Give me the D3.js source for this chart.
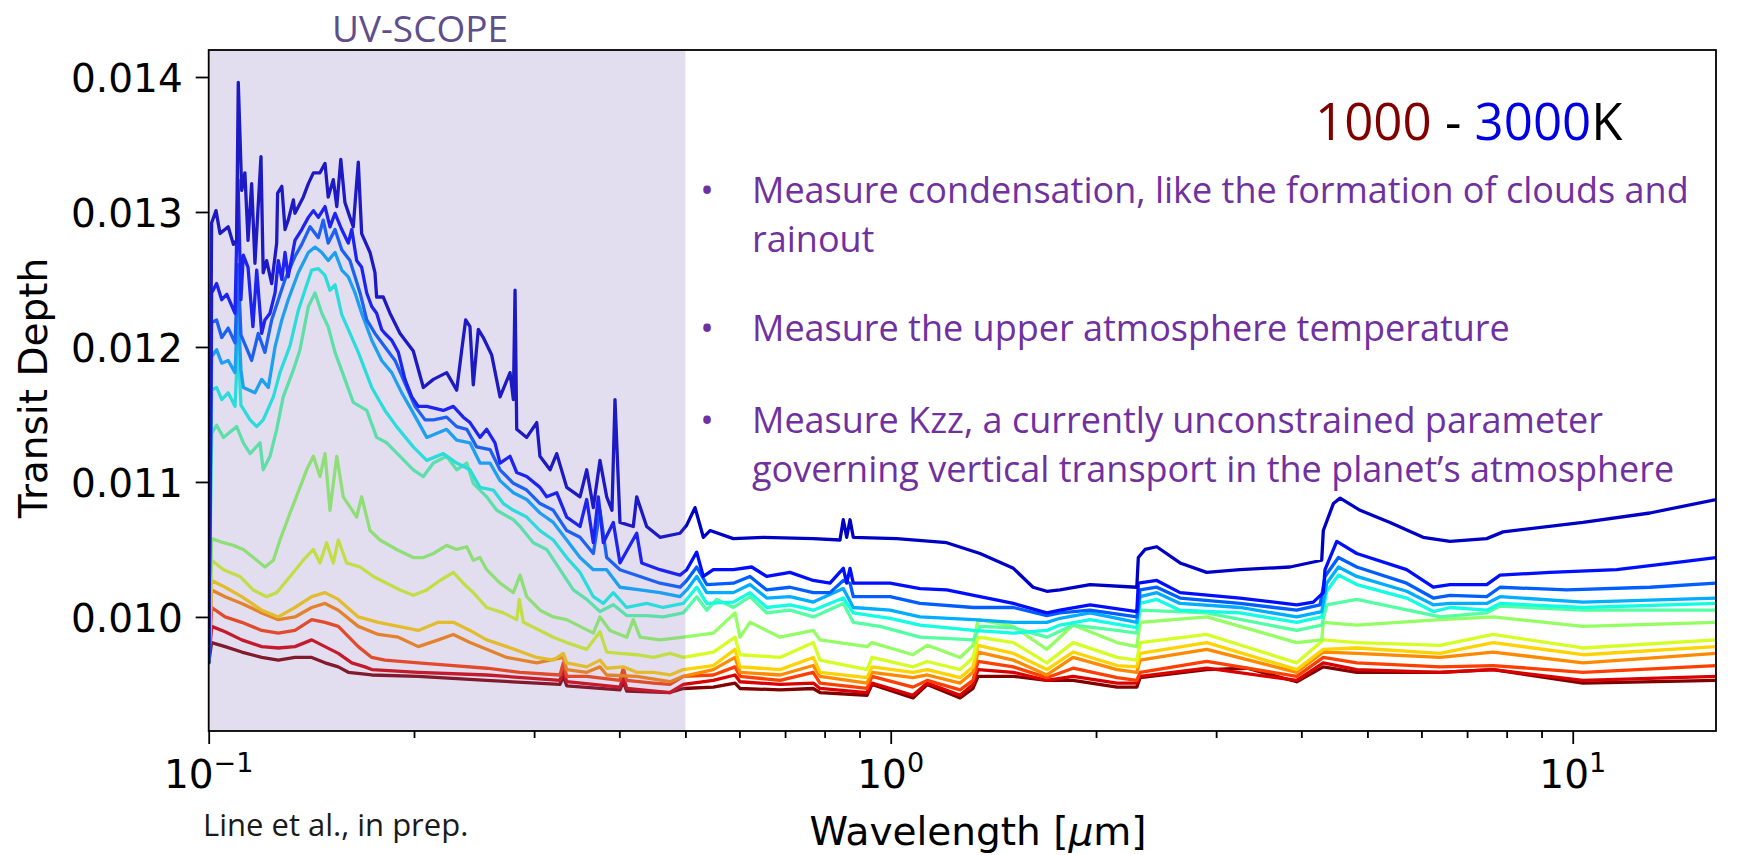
<!DOCTYPE html>
<html>
<head>
<meta charset="utf-8">
<script src="https://cdn.jsdelivr.net/npm/d3@7"></script>
<style>
  html, body { margin: 0; padding: 0; background: #fff; }
  svg { display: block; }
</style>
</head>
<body>
<svg id="chart" width="1750" height="855"></svg>
<script>
// Transmission spectra of a hot planet, 1000 K (dark red) to 3000 K (blue).
// Each series: [wavelength in micron, transit depth].
const temperatures = [3000, 2833, 2667, 2500, 2333, 2167, 2000, 1833, 1667, 1500, 1333, 1167, 1000];

const spec3000 = [[0.1,0.00966],[0.1010,0.01292],[0.1025,0.01301],[0.1039,0.01284],[0.1068,0.01289],[0.1087,0.01276],[0.1099,0.01279],[0.1105,0.01396],[0.1118,0.01316],[0.1130,0.01329],[0.1142,0.01279],[0.1156,0.01321],[0.1169,0.01262],[0.1193,0.01341],[0.1202,0.01255],[0.1216,0.01264],[0.1237,0.01247],[0.1258,0.01277],[0.1262,0.01314],[0.1280,0.01319],[0.1294,0.01287],[0.1308,0.01294],[0.1331,0.01309],[0.1338,0.01299],[0.1376,0.01311],[0.1400,0.01321],[0.1424,0.01329],[0.1456,0.01329],[0.1481,0.01336],[0.1497,0.01311],[0.1523,0.01324],[0.1541,0.01304],[0.1562,0.01339],[0.1584,0.01307],[0.1611,0.01296],[0.1629,0.01289],[0.1657,0.01337],[0.1676,0.01284],[0.1724,0.01270],[0.1753,0.01255],[0.1763,0.01237],[0.1803,0.01237],[0.1844,0.01225],[0.1908,0.01210],[0.1995,0.01197],[0.2064,0.01170],[0.2135,0.01176],[0.2233,0.01181],[0.2310,0.01168],[0.2350,0.01198],[0.2381,0.01220],[0.2416,0.01215],[0.2443,0.01172],[0.2485,0.01213],[0.2527,0.01207],[0.2600,0.01194],[0.2674,0.01163],[0.2766,0.01181],[0.2797,0.01161],[0.2813,0.01242],[0.2829,0.01139],[0.2926,0.01133],[0.3027,0.01144],[0.3060,0.01119],[0.3166,0.01109],[0.3238,0.01121],[0.3349,0.01096],[0.3503,0.01089],[0.3583,0.01109],[0.3664,0.01081],[0.3747,0.01116],[0.3833,0.01089],[0.3902,0.01079],[0.3942,0.01161],[0.4009,0.01070],[0.4193,0.01067],[0.4242,0.01089],[0.4387,0.01067],[0.4589,0.01059],[0.4910,0.01062],[0.5022,0.01068],[0.5165,0.01081],[0.5312,0.01059],[0.5434,0.01064],[0.5878,0.01058],[0.6505,0.01059],[0.7699,0.01058],[0.8426,0.01057],[0.8520,0.01072],[0.8619,0.01059],[0.8716,0.01072],[0.8813,0.01059],[1.0205,0.01058],[1.208,0.01055],[1.352,0.01047],[1.513,0.01036],[1.617,0.01022],[1.694,0.01019],[1.771,0.01020],[1.960,0.01024],[2.295,0.01022],[2.307,0.01044],[2.360,0.01050],[2.455,0.01052],[2.656,0.01040],[2.906,0.01033],[3.252,0.01035],[3.850,0.01037],[4.285,0.01042],[4.308,0.01064],[4.457,0.01084],[4.560,0.01088],[4.878,0.01079],[5.396,0.01070],[6.034,0.01059],[6.607,0.01056],[7.479,0.01058],[7.904,0.01063],[10.35,0.01070],[12.98,0.01077],[16.22,0.01087]];

const spec2833 = [[0.1,0.00966],[0.1010,0.01240],[0.1027,0.01247],[0.1045,0.01235],[0.1063,0.01239],[0.1093,0.01225],[0.1104,0.01324],[0.1115,0.01235],[0.1124,0.01268],[0.1142,0.01259],[0.1161,0.01215],[0.1176,0.01257],[0.1196,0.01210],[0.1209,0.01220],[0.1230,0.01225],[0.1251,0.01240],[0.1265,0.01264],[0.1280,0.01250],[0.1294,0.01270],[0.1308,0.01252],[0.1338,0.01279],[0.1369,0.01287],[0.1400,0.01296],[0.1424,0.01301],[0.1448,0.01296],[0.1481,0.01304],[0.1506,0.01289],[0.1532,0.01299],[0.1567,0.01287],[0.1602,0.01277],[0.1621,0.01287],[0.1648,0.01264],[0.1676,0.01259],[0.1705,0.01240],[0.1734,0.01230],[0.1763,0.01225],[0.1793,0.01213],[0.1813,0.01210],[0.1855,0.01205],[0.1897,0.01196],[0.1940,0.01176],[0.1985,0.01163],[0.2029,0.01156],[0.2088,0.01156],[0.2208,0.01153],[0.2284,0.01156],[0.2362,0.01148],[0.2416,0.01144],[0.2499,0.01133],[0.2556,0.01139],[0.2629,0.01129],[0.2674,0.01114],[0.2766,0.01119],[0.2829,0.01107],[0.2926,0.01104],[0.3060,0.01096],[0.3130,0.01089],[0.3238,0.01092],[0.3349,0.01074],[0.3503,0.01067],[0.3583,0.01087],[0.3664,0.01055],[0.3726,0.01089],[0.3790,0.01055],[0.3920,0.01070],[0.4009,0.01040],[0.4242,0.01062],[0.4314,0.01040],[0.4589,0.01035],[0.4910,0.01031],[0.5022,0.01035],[0.5194,0.01048],[0.5312,0.01030],[0.5494,0.01035],[0.5878,0.01035],[0.6254,0.01037],[0.6579,0.01030],[0.7117,0.01033],[0.7699,0.01027],[0.8146,0.01025],[0.8520,0.01036],[0.8619,0.01025],[0.8716,0.01036],[0.8813,0.01025],[0.9977,0.01025],[1.104,0.01021],[1.208,0.01020],[1.352,0.01015],[1.513,0.01010],[1.694,0.01003],[1.771,0.01005],[1.960,0.01009],[2.295,0.01004],[2.307,0.01025],[2.455,0.01027],[2.656,0.01018],[3.252,0.01014],[3.938,0.01009],[4.165,0.01011],[4.308,0.01018],[4.333,0.01035],[4.508,0.01056],[4.823,0.01047],[5.707,0.01035],[6.244,0.01022],[6.607,0.01024],[7.479,0.01024],[7.824,0.01031],[9.262,0.01033],[11.60,0.01035],[14.53,0.01041],[16.22,0.01044]];

const spec2667 = [[0.1,0.00966],[0.1010,0.01218],[0.1027,0.01220],[0.1045,0.01207],[0.1068,0.01214],[0.1093,0.01203],[0.1104,0.01261],[0.1115,0.01209],[0.1156,0.01190],[0.1182,0.01210],[0.1209,0.01196],[0.1237,0.01220],[0.1265,0.01235],[0.1294,0.01250],[0.1338,0.01267],[0.1369,0.01276],[0.1408,0.01289],[0.1448,0.01281],[0.1472,0.01294],[0.1497,0.01277],[0.1532,0.01287],[0.1567,0.01272],[0.1611,0.01264],[0.1639,0.01252],[0.1667,0.01240],[0.1705,0.01220],[0.1753,0.01210],[0.1813,0.01200],[0.1876,0.01190],[0.1940,0.01173],[0.2007,0.01156],[0.2076,0.01146],[0.2135,0.01146],[0.2233,0.01148],[0.2310,0.01141],[0.2390,0.01139],[0.2471,0.01126],[0.2585,0.01124],[0.2674,0.01109],[0.2797,0.01099],[0.2926,0.01094],[0.3060,0.01084],[0.3201,0.01079],[0.3349,0.01064],[0.3503,0.01059],[0.3664,0.01047],[0.3747,0.01079],[0.3833,0.01044],[0.4009,0.01035],[0.4290,0.01030],[0.4589,0.01025],[0.4910,0.01022],[0.5022,0.01027],[0.5194,0.01037],[0.5374,0.01024],[0.5878,0.01025],[0.6218,0.01030],[0.6579,0.01020],[0.7117,0.01022],[0.7699,0.01018],[0.8146,0.01018],[0.8520,0.01027],[0.8716,0.01025],[0.8813,0.01015],[0.9977,0.01015],[1.104,0.01010],[1.322,0.01007],[1.513,0.01007],[1.694,0.01001],[1.771,0.01003],[1.960,0.01005],[2.295,0.01000],[2.321,0.01020],[2.455,0.01022],[2.656,0.01014],[3.252,0.01010],[3.938,0.01005],[4.261,0.01009],[4.333,0.01030],[4.533,0.01044],[4.823,0.01037],[5.707,0.01025],[6.244,0.01014],[6.607,0.01016],[7.479,0.01015],[7.824,0.01022],[9.80,0.01020],[12.98,0.01022],[16.22,0.01025]];

const spec2500 = [[0.1,0.00966],[0.1010,0.01193],[0.1027,0.01198],[0.1045,0.01188],[0.1068,0.01190],[0.1093,0.01181],[0.1104,0.01235],[0.1115,0.01183],[0.1124,0.01170],[0.1169,0.01166],[0.1196,0.01176],[0.1223,0.01170],[0.1251,0.01200],[0.1280,0.01220],[0.1308,0.01235],[0.1353,0.01255],[0.1400,0.01270],[0.1432,0.01274],[0.1465,0.01270],[0.1497,0.01264],[0.1532,0.01270],[0.1567,0.01257],[0.1602,0.01252],[0.1639,0.01240],[0.1676,0.01225],[0.1734,0.01205],[0.1793,0.01190],[0.1855,0.01181],[0.1919,0.01166],[0.1985,0.01153],[0.2088,0.01133],[0.2233,0.01139],[0.2310,0.01131],[0.2416,0.01129],[0.2499,0.01114],[0.2585,0.01114],[0.2674,0.01101],[0.2797,0.01092],[0.2926,0.01087],[0.3060,0.01077],[0.3201,0.01070],[0.3349,0.01057],[0.3503,0.01044],[0.3664,0.01035],[0.3833,0.01035],[0.4009,0.01022],[0.4290,0.01020],[0.4589,0.01018],[0.4910,0.01015],[0.5022,0.01020],[0.5194,0.01030],[0.5374,0.01018],[0.5878,0.01018],[0.6218,0.01024],[0.6579,0.01014],[0.7117,0.01015],[0.7699,0.01011],[0.8520,0.01021],[0.8813,0.01007],[0.9977,0.01005],[1.104,0.01000],[1.322,0.00998],[1.513,0.00996],[1.694,0.00996],[1.771,0.00999],[1.960,0.01003],[2.295,0.00996],[2.321,0.01015],[2.455,0.01018],[2.656,0.01010],[3.252,0.01007],[3.938,0.01000],[4.285,0.01004],[4.358,0.01025],[4.533,0.01037],[4.823,0.01030],[5.707,0.01019],[6.244,0.01009],[6.607,0.01010],[7.479,0.01010],[7.824,0.01015],[10.35,0.01011],[16.22,0.01014]];

const spec2333 = [[0.1,0.00966],[0.1010,0.01168],[0.1027,0.01170],[0.1045,0.01161],[0.1068,0.01166],[0.1093,0.01156],[0.1104,0.01205],[0.1115,0.01157],[0.1150,0.01146],[0.1176,0.01141],[0.1202,0.01146],[0.1244,0.01163],[0.1272,0.01181],[0.1316,0.01201],[0.1353,0.01227],[0.1384,0.01242],[0.1416,0.01257],[0.1448,0.01258],[0.1481,0.01253],[0.1506,0.01242],[0.1532,0.01246],[0.1567,0.01224],[0.1602,0.01213],[0.1657,0.01196],[0.1734,0.01170],[0.1813,0.01153],[0.1886,0.01141],[0.1995,0.01126],[0.2088,0.01116],[0.2208,0.01121],[0.2310,0.01114],[0.2416,0.01109],[0.2499,0.01096],[0.2614,0.01094],[0.2704,0.01084],[0.2797,0.01079],[0.2926,0.01074],[0.3060,0.01064],[0.3201,0.01057],[0.3349,0.01044],[0.3503,0.01033],[0.3664,0.01015],[0.3790,0.01010],[0.3920,0.01018],[0.4101,0.01007],[0.4387,0.01010],[0.4640,0.01007],[0.4965,0.01010],[0.5194,0.01022],[0.5374,0.01010],[0.5878,0.01011],[0.6218,0.01018],[0.6579,0.01007],[0.7117,0.01009],[0.7699,0.01005],[0.8520,0.01014],[0.8813,0.01003],[0.9977,0.00999],[1.104,0.00994],[1.322,0.00990],[1.513,0.00988],[1.694,0.00990],[1.771,0.00994],[1.960,0.00998],[2.295,0.00992],[2.321,0.01010],[2.455,0.01013],[2.656,0.01005],[3.252,0.01003],[3.938,0.00996],[4.285,0.01000],[4.358,0.01019],[4.533,0.01031],[4.823,0.01024],[5.707,0.01014],[6.244,0.01004],[6.607,0.01007],[7.479,0.01005],[7.824,0.01010],[10.35,0.01007],[16.22,0.01010]];

const spec2167 = [[0.1,0.00966],[0.1010,0.01136],[0.1027,0.01142],[0.1051,0.01133],[0.1099,0.01141],[0.1124,0.01129],[0.1150,0.01121],[0.1189,0.01129],[0.1202,0.01109],[0.1230,0.01119],[0.1258,0.01139],[0.1286,0.01163],[0.1331,0.01183],[0.1361,0.01198],[0.1400,0.01230],[0.1432,0.01240],[0.1465,0.01225],[0.1497,0.01215],[0.1532,0.01196],[0.1584,0.01176],[0.1629,0.01159],[0.1705,0.01153],[0.1763,0.01133],[0.1824,0.01129],[0.1908,0.01119],[0.1995,0.01109],[0.2064,0.01104],[0.2135,0.01114],[0.2233,0.01119],[0.2310,0.01109],[0.2390,0.01114],[0.2443,0.01099],[0.2556,0.01089],[0.2644,0.01079],[0.2797,0.01072],[0.2861,0.01067],[0.2992,0.01055],[0.3130,0.01050],[0.3274,0.01035],[0.3425,0.01020],[0.3583,0.01013],[0.3747,0.01004],[0.3920,0.01009],[0.4101,0.01001],[0.4387,0.01001],[0.4640,0.01000],[0.4965,0.01003],[0.5194,0.01015],[0.5374,0.01005],[0.5558,0.01013],[0.5878,0.01007],[0.6218,0.01015],[0.6579,0.01003],[0.7117,0.01005],[0.7699,0.01000],[0.8520,0.01010],[0.8813,0.00996],[0.9646,0.00993],[1.104,0.00985],[1.322,0.00983],[1.352,0.00993],[1.513,0.00992],[1.694,0.00985],[1.851,0.00994],[2.147,0.00990],[2.295,0.00988],[2.321,0.01005],[2.907,0.01003],[3.938,0.00990],[4.285,0.00994],[4.358,0.01009],[4.823,0.01013],[6.387,0.01000],[7.479,0.01003],[7.824,0.01008],[10.35,0.01005],[16.22,0.01005]];

const spec2000 = [[0.1,0.00966],[0.1010,0.01058],[0.1051,0.01055],[0.1087,0.01053],[0.1124,0.01050],[0.1176,0.01042],[0.1209,0.01037],[0.1244,0.01042],[0.1272,0.01057],[0.1316,0.01077],[0.1361,0.01096],[0.1392,0.01109],[0.1424,0.01119],[0.1456,0.01104],[0.1481,0.01121],[0.1506,0.01079],[0.1541,0.01119],[0.1575,0.01089],[0.1648,0.01074],[0.1676,0.01089],[0.1724,0.01064],[0.1783,0.01057],[0.1886,0.01050],[0.1995,0.01044],[0.2064,0.01044],[0.2135,0.01047],[0.2233,0.01053],[0.2310,0.01050],[0.2390,0.01052],[0.2443,0.01042],[0.2499,0.01044],[0.2556,0.01035],[0.2674,0.01025],[0.2797,0.01018],[0.2861,0.01031],[0.2926,0.01015],[0.3060,0.01005],[0.3201,0.01000],[0.3349,0.00998],[0.3503,0.00993],[0.3664,0.00988],[0.3747,0.01000],[0.3876,0.00990],[0.4101,0.00985],[0.4193,0.00998],[0.4290,0.00985],[0.4589,0.00983],[0.4965,0.00985],[0.5494,0.00988],[0.5911,0.01003],[0.6012,0.00985],[0.6218,0.00996],[0.6882,0.00985],[0.7699,0.00990],[0.7876,0.00983],[0.9231,0.00978],[0.9387,0.00981],[1.078,0.00972],[1.131,0.00979],[1.264,0.00970],[1.320,0.00979],[1.343,0.00998],[1.513,0.00993],[1.694,0.00976],[1.851,0.00994],[2.147,0.00981],[2.295,0.00978],[2.321,0.00996],[2.907,0.01000],[3.938,0.00981],[4.285,0.00983],[4.308,0.00996],[4.823,0.00994],[6.387,0.00998],[7.641,0.01000],[10.35,0.00993],[16.22,0.00996]];

const spec1833 = [[0.1,0.00966],[0.1010,0.01042],[0.1051,0.01035],[0.1111,0.01030],[0.1162,0.01020],[0.1216,0.01015],[0.1258,0.01018],[0.1316,0.01030],[0.1376,0.01042],[0.1424,0.01050],[0.1456,0.01040],[0.1489,0.01055],[0.1523,0.01040],[0.1549,0.01057],[0.1593,0.01040],[0.1667,0.01037],[0.1743,0.01030],[0.1824,0.01025],[0.1908,0.01020],[0.1995,0.01016],[0.2088,0.01020],[0.2183,0.01027],[0.2284,0.01033],[0.2362,0.01025],[0.2443,0.01018],[0.2556,0.01007],[0.2704,0.01003],[0.2829,0.00998],[0.2854,0.01013],[0.2893,0.00996],[0.3060,0.00990],[0.3201,0.00985],[0.3349,0.00981],[0.3583,0.00976],[0.3747,0.00989],[0.3833,0.00974],[0.4009,0.00973],[0.4242,0.00972],[0.4487,0.00970],[0.4747,0.00973],[0.4965,0.00970],[0.5494,0.00974],[0.5911,0.00985],[0.6012,0.00972],[0.6882,0.00970],[0.7699,0.00981],[0.7876,0.00968],[0.9231,0.00961],[0.9387,0.00970],[1.078,0.00963],[1.131,0.00967],[1.264,0.00961],[1.320,0.00970],[1.343,0.00985],[1.513,0.00981],[1.694,0.00966],[1.851,0.00981],[2.147,0.00970],[2.295,0.00968],[2.321,0.00981],[2.907,0.00987],[3.938,0.00966],[4.308,0.00983],[4.823,0.00981],[6.387,0.00979],[7.641,0.00987],[10.35,0.00977],[16.22,0.00983]];

const spec1667 = [[0.1,0.00966],[0.1010,0.01027],[0.1057,0.01022],[0.1118,0.01015],[0.1196,0.01005],[0.1265,0.01000],[0.1338,0.01007],[0.1416,0.01015],[0.1481,0.01018],[0.1549,0.01013],[0.1657,0.01000],[0.1773,0.00996],[0.1897,0.00993],[0.2029,0.00990],[0.2171,0.00996],[0.2284,0.00996],[0.2416,0.00990],[0.2556,0.00983],[0.2735,0.00978],[0.3027,0.00970],[0.3201,0.00968],[0.3311,0.00973],[0.3349,0.00966],[0.3583,0.00963],[0.3747,0.00968],[0.3833,0.00962],[0.4054,0.00963],[0.4242,0.00959],[0.4487,0.00959],[0.4747,0.00957],[0.4965,0.00961],[0.5494,0.00964],[0.5911,0.00976],[0.6012,0.00963],[0.6882,0.00961],[0.7699,0.00970],[0.7876,0.00959],[0.9231,0.00955],[0.9387,0.00963],[1.078,0.00959],[1.131,0.00961],[1.264,0.00955],[1.320,0.00963],[1.343,0.00979],[1.513,0.00973],[1.694,0.00961],[1.851,0.00974],[2.147,0.00964],[2.295,0.00963],[2.321,0.00973],[2.907,0.00981],[3.938,0.00961],[4.308,0.00976],[4.823,0.00977],[6.387,0.00973],[7.641,0.00981],[10.35,0.00972],[16.22,0.00978]];

const spec1500 = [[0.1,0.00966],[0.1010,0.01020],[0.1057,0.01015],[0.1118,0.01010],[0.1196,0.01003],[0.1265,0.00998],[0.1338,0.01000],[0.1416,0.01007],[0.1481,0.01010],[0.1549,0.01005],[0.1657,0.00993],[0.1773,0.00987],[0.1897,0.00985],[0.2029,0.00978],[0.2171,0.00983],[0.2284,0.00987],[0.2416,0.00981],[0.2556,0.00976],[0.2735,0.00970],[0.3027,0.00966],[0.3311,0.00970],[0.3349,0.00961],[0.3583,0.00959],[0.3747,0.00963],[0.3833,0.00957],[0.4242,0.00956],[0.4747,0.00952],[0.4965,0.00956],[0.5494,0.00961],[0.5911,0.00970],[0.6012,0.00959],[0.6882,0.00957],[0.7699,0.00964],[0.7876,0.00956],[0.9231,0.00951],[0.9387,0.00959],[1.078,0.00955],[1.131,0.00957],[1.264,0.00951],[1.320,0.00959],[1.343,0.00974],[1.513,0.00968],[1.694,0.00957],[1.851,0.00970],[2.147,0.00961],[2.295,0.00959],[2.321,0.00968],[2.907,0.00976],[3.938,0.00959],[4.308,0.00974],[4.823,0.00973],[6.387,0.00970],[7.641,0.00974],[10.35,0.00966],[16.22,0.00973]];

const spec1333 = [[0.1,0.00966],[0.1010,0.01007],[0.1057,0.01000],[0.1118,0.00996],[0.1196,0.00990],[0.1265,0.00988],[0.1338,0.00990],[0.1416,0.00998],[0.1481,0.00996],[0.1549,0.00993],[0.1657,0.00978],[0.1734,0.00970],[0.1813,0.00968],[0.2029,0.00966],[0.2284,0.00964],[0.2556,0.00962],[0.2861,0.00959],[0.3274,0.00957],[0.3311,0.00966],[0.3349,0.00956],[0.3583,0.00956],[0.4009,0.00953],[0.4054,0.00962],[0.4101,0.00953],[0.4487,0.00951],[0.4747,0.00950],[0.4965,0.00956],[0.5494,0.00957],[0.5911,0.00963],[0.6012,0.00956],[0.6882,0.00953],[0.7699,0.00959],[0.7876,0.00951],[0.9231,0.00947],[0.9387,0.00956],[1.078,0.00948],[1.131,0.00953],[1.264,0.00946],[1.320,0.00953],[1.343,0.00967],[1.513,0.00963],[1.694,0.00955],[1.851,0.00962],[2.147,0.00955],[2.295,0.00953],[2.321,0.00959],[2.907,0.00967],[3.938,0.00956],[4.308,0.00970],[4.823,0.00966],[6.387,0.00963],[7.641,0.00964],[10.35,0.00959],[16.22,0.00964]];

const spec1167 = [[0.1,0.00966],[0.1010,0.00993],[0.1057,0.00989],[0.1118,0.00983],[0.1196,0.00978],[0.1265,0.00977],[0.1338,0.00978],[0.1416,0.00983],[0.1481,0.00978],[0.1549,0.00973],[0.1621,0.00966],[0.1695,0.00963],[0.1734,0.00961],[0.2029,0.00959],[0.2556,0.00957],[0.3274,0.00953],[0.3311,0.00961],[0.3349,0.00952],[0.4009,0.00948],[0.4054,0.00956],[0.4101,0.00947],[0.4747,0.00944],[0.4965,0.00950],[0.5494,0.00953],[0.5911,0.00957],[0.6012,0.00952],[0.6882,0.00950],[0.7699,0.00951],[0.7876,0.00947],[0.9231,0.00944],[0.9387,0.00951],[1.078,0.00942],[1.131,0.00951],[1.264,0.00942],[1.320,0.00950],[1.343,0.00961],[1.513,0.00959],[1.694,0.00953],[1.851,0.00956],[2.147,0.00951],[2.295,0.00951],[2.321,0.00956],[2.907,0.00962],[3.938,0.00953],[4.308,0.00966],[4.823,0.00961],[6.387,0.00959],[7.641,0.00961],[10.35,0.00953],[16.22,0.00956]];

const spec1000 = [[0.1,0.00966],[0.1010,0.00981],[0.1057,0.00978],[0.1118,0.00974],[0.1196,0.00970],[0.1265,0.00968],[0.1338,0.00970],[0.1416,0.00970],[0.1481,0.00966],[0.1549,0.00963],[0.1602,0.00959],[0.1734,0.00957],[0.2029,0.00956],[0.2556,0.00953],[0.3274,0.00950],[0.3311,0.00956],[0.3349,0.00949],[0.4009,0.00946],[0.4054,0.00952],[0.4101,0.00945],[0.4747,0.00944],[0.4965,0.00947],[0.5494,0.00948],[0.5911,0.00951],[0.6012,0.00947],[0.6882,0.00946],[0.7699,0.00947],[0.7876,0.00944],[0.9231,0.00942],[0.9387,0.00950],[1.078,0.00940],[1.131,0.00950],[1.264,0.00940],[1.320,0.00947],[1.343,0.00956],[1.513,0.00956],[1.694,0.00953],[1.851,0.00953],[2.147,0.00948],[2.295,0.00948],[2.321,0.00955],[2.907,0.00961],[3.330,0.00962],[3.938,0.00952],[4.308,0.00963],[4.823,0.00959],[6.387,0.00959],[7.641,0.00961],[10.35,0.00951],[16.22,0.00953]];

const spectra = [spec3000, spec2833, spec2667, spec2500, spec2333, spec2167, spec2000,
                 spec1833, spec1667, spec1500, spec1333, spec1167, spec1000];

const wavelengthDomain = [0.1, 16.22];
const depthDomain = [0.009155, 0.0142];
const majorWavelengthTicks = [0.1, 1, 10];
const majorTickExponents = ["\u22121", "0", "1"];
const depthTicks = [0.010, 0.011, 0.012, 0.013, 0.014];
const uvBand = [0.1, 0.5];
const bullets = [
  ["Measure condensation, like the formation of clouds and", "rainout"],
  ["Measure the upper atmosphere temperature"],
  ["Measure Kzz, a currently unconstrained parameter", "governing vertical transport in the planet\u2019s atmosphere"]
];

// ---- layout ----
const svg = d3.select("#chart");
const plot = { left: 208.7, right: 1716, top: 50, bottom: 731 };

const x = d3.scaleLog().domain(wavelengthDomain).range([plot.left, plot.right]);
const y = d3.scaleLinear().domain(depthDomain).range([plot.bottom, plot.top]);

// matplotlib "jet" colour map
const jetR = d3.scaleLinear().domain([0, 0.35, 0.66, 0.89, 1]).range([0, 0, 1, 1, 0.5]).clamp(true);
const jetG = d3.scaleLinear().domain([0, 0.125, 0.375, 0.64, 0.91, 1]).range([0, 0, 1, 1, 0, 0]).clamp(true);
const jetB = d3.scaleLinear().domain([0, 0.11, 0.34, 0.65, 1]).range([0.5, 1, 1, 0, 0]).clamp(true);
const jet = t => d3.rgb(255 * jetR(t), 255 * jetG(t), 255 * jetB(t)).formatHex();
const tempToCmap = d3.scaleLinear().domain([3000, 1000]).range([0.06, 1]);

svg.append("rect").attr("width", 1750).attr("height", 855).attr("fill", "#fff");

svg.append("defs").append("clipPath").attr("id", "plotClip")
  .append("rect")
  .attr("x", plot.left).attr("y", plot.top)
  .attr("width", plot.right - plot.left).attr("height", plot.bottom - plot.top);

const line = d3.line().x(d => x(d[0])).y(d => y(d[1]));

const lines = svg.append("g").attr("clip-path", "url(#plotClip)");
// draw cool spectra first so the hottest ends up on top
const order = d3.range(spectra.length).reverse();
order.forEach(i => {
  lines.append("path")
    .datum(spectra[i])
    .attr("d", line)
    .attr("fill", "none")
    .attr("stroke", jet(tempToCmap(temperatures[i])))
    .attr("stroke-width", 3.3)
    .attr("stroke-linejoin", "round")
    .attr("stroke-linecap", "round");
});

// UV-SCOPE band, tinted over the spectra
svg.append("rect")
  .attr("x", x(uvBand[0])).attr("y", plot.top)
  .attr("width", x(uvBand[1]) - x(uvBand[0]))
  .attr("height", plot.bottom - plot.top)
  .attr("fill", "#8170be").attr("fill-opacity", 0.23);

// ---- axes ----
const axisFont = "'DejaVu Sans', sans-serif";

const minorTicks = x.ticks().filter(t => !majorWavelengthTicks.some(m => Math.abs(m - t) < 1e-9));
const gxMinor = svg.append("g").attr("transform", `translate(0,${plot.bottom})`)
  .call(d3.axisBottom(x).tickValues(minorTicks).tickSize(7).tickSizeOuter(0).tickFormat(""));
const gxMajor = svg.append("g").attr("transform", `translate(0,${plot.bottom})`)
  .call(d3.axisBottom(x).tickValues(majorWavelengthTicks).tickSize(13).tickSizeOuter(0).tickFormat(""));
[gxMinor, gxMajor].forEach(g => {
  g.select(".domain").remove();
  g.selectAll(".tick line").attr("stroke", "#000").attr("stroke-width", 1.8);
});

majorWavelengthTicks.forEach((t, i) => {
  const lbl = svg.append("text")
    .attr("x", x(t)).attr("y", 788)
    .attr("text-anchor", "middle")
    .attr("font-family", axisFont).attr("font-size", 39).attr("fill", "#000");
  lbl.append("tspan").text("10");
  lbl.append("tspan").attr("dy", -16).attr("font-size", 27).text(majorTickExponents[i]);
});

const gy = svg.append("g").attr("transform", `translate(${plot.left},0)`)
  .call(d3.axisLeft(y).tickValues(depthTicks).tickSize(13).tickSizeOuter(0)
    .tickPadding(13).tickFormat(d3.format(".3f")));
gy.select(".domain").remove();
gy.selectAll(".tick line").attr("stroke", "#000").attr("stroke-width", 1.8);
gy.selectAll(".tick text")
  .attr("font-family", axisFont).attr("font-size", 39).attr("fill", "#000")
  .attr("dy", "0.37em");

// frame
svg.append("rect")
  .attr("x", plot.left).attr("y", plot.top)
  .attr("width", plot.right - plot.left).attr("height", plot.bottom - plot.top)
  .attr("fill", "none").attr("stroke", "#000").attr("stroke-width", 1.8);

// axis titles
const xl = svg.append("text")
  .attr("x", 978).attr("y", 845).attr("text-anchor", "middle")
  .attr("font-family", axisFont).attr("font-size", 39).attr("fill", "#000");
xl.append("tspan").text("Wavelength [");
xl.append("tspan").attr("font-style", "italic").text("\u03bc");
xl.append("tspan").text("m]");

svg.append("text")
  .attr("transform", "translate(47,388) rotate(-90)")
  .attr("text-anchor", "middle")
  .attr("font-family", axisFont).attr("font-size", 39).attr("fill", "#000")
  .text("Transit Depth");

// ---- annotations ----
const noteFont = "'Open Sans', 'Noto Sans', sans-serif";

svg.append("text")
  .attr("x", 420).attr("y", 42).attr("text-anchor", "middle")
  .attr("font-family", noteFont).attr("font-size", 37).attr("fill", "#5e4e8c")
  .text("UV-SCOPE");

const range = svg.append("text")
  .attr("x", 1315).attr("y", 140)
  .attr("font-family", noteFont).attr("font-size", 51).attr("fill", "#000");
range.append("tspan").attr("fill", "#800000").text("1000");
range.append("tspan").attr("fill", "#000").text(" - ");
range.append("tspan").attr("fill", "#0000e0").text("3000");
range.append("tspan").attr("fill", "#000").text("K");

const bulletBaselines = [203, 341, 433];
const lineGap = 49;
bullets.forEach((lns, i) => {
  const base = bulletBaselines[i];
  svg.append("text")
    .attr("x", 707).attr("y", base).attr("text-anchor", "middle")
    .attr("font-family", noteFont).attr("font-size", 36).attr("fill", "#7030a0")
    .text("\u2022");
  lns.forEach((s, j) => {
    svg.append("text")
      .attr("x", 752).attr("y", base + j * lineGap)
      .attr("font-family", noteFont).attr("font-size", 36).attr("fill", "#7030a0")
      .text(s);
  });
});

svg.append("text")
  .attr("x", 203).attr("y", 836)
  .attr("font-family", noteFont).attr("font-size", 31).attr("fill", "#1a1a1a")
  .text("Line et al., in prep.");
</script>
</body>
</html>
